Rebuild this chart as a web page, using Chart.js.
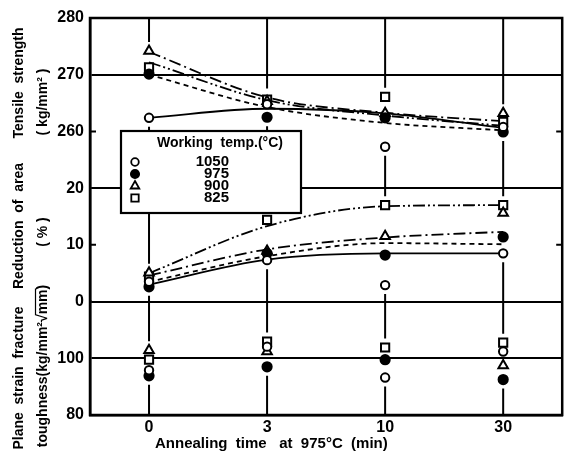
<!DOCTYPE html>
<html><head><meta charset="utf-8">
<script src="https://cdn.jsdelivr.net/npm/chart.js@4.4.1/dist/chart.umd.min.js"></script>
<style>html,body{margin:0;padding:0;background:#fff}#wrap{width:570px;height:455px;position:relative}</style>
</head><body><div id="wrap"><canvas id="c"></canvas></div>
<script>
// ---------- data ----------
const times = ['0', '3', '10', '30'];
const tempLabels = ['1050', '975', '900', '825'];
const tensileTicks = [260, 270, 280];
const reductionTicks = [0, 10, 20];
const toughnessTicks = [80, 100];

// Tensile strength (kg/mm2) measured points
const tensile1050 = [262.4, 264.8, 257.3, 260.8];
const tensile975  = [270.1, 262.5, 262.4, 259.9];
const tensile900  = [274.2, 265.3, 263.2, 263.2];
const tensile825  = [271.3, 265.6, 266.1, 261.7];
// Tensile strength fitted curves
const tensileFit1050 = [262.4, 264.0, 263.2, 260.6];
const tensileFit975  = [270.0, 264.3, 261.5, 260.2];
const tensileFit900  = [274.0, 266.0, 263.3, 261.8];
const tensileFit825  = [272.2, 265.5, 262.8, 261.0];

// Reduction of area (%) measured points
const reduction1050 = [3.5, 7.3, 2.9, 8.5];
const reduction975  = [2.6, 8.5, 8.2, 11.4];
const reduction900  = [5.1, 8.9, 11.5, 15.6];
const reduction825  = [4.4, 14.4, 17.0, 17.0];
// Reduction of area fitted curves
const reductionFit1050 = [3.0, 7.4, 8.5, 8.5];
const reductionFit975  = [3.5, 8.0, 10.3, 10.1];
const reductionFit900  = [4.6, 9.2, 11.3, 12.3];
const reductionFit825  = [5.0, 13.3, 16.8, 17.0];

// Plane strain fracture toughness measured points
const toughness1050 = [95.8, 104.1, 93.2, 102.4];
const toughness975  = [93.8, 97.0, 99.5, 92.5];
const toughness900  = [102.8, 102.4, null, 97.5];
const toughness825  = [99.5, 105.9, 103.8, 105.5];

// ---------- styles ----------
const FONT = "'Liberation Sans', Arial, sans-serif";
const seriesStyle = [
  {pointStyle: 'circle',   bg: '#fff', r: 4.2, dash: []},
  {pointStyle: 'circle',   bg: '#000', r: 4.6, dash: [5, 4]},
  {pointStyle: 'triangle', bg: '#fff', r: 5.5, dash: [12, 4, 2, 4]},
  {pointStyle: 'rect',     bg: '#fff', r: 5.8, dash: [12, 3, 2, 3, 2, 3]}
];

const tensilePts = [tensile1050, tensile975, tensile900, tensile825];
const tensileFits = [tensileFit1050, tensileFit975, tensileFit900, tensileFit825];
const reductionPts = [reduction1050, reduction975, reduction900, reduction825];
const reductionFits = [reductionFit1050, reductionFit975, reductionFit900, reductionFit825];
const toughnessPts = [toughness1050, toughness975, toughness900, toughness825];

function curveDs(data, i, axis) {
  return {label: tempLabels[i] + ' fit', data, yAxisID: axis, borderColor: '#000', borderWidth: 1.8,
    borderDash: seriesStyle[i].dash, pointRadius: 0, tension: 0.4, cubicInterpolationMode: 'monotone',
    fill: false, order: 2, spanGaps: true};
}
function pointDs(data, i, axis) {
  const s = seriesStyle[i];
  return {label: tempLabels[i], data, yAxisID: axis, showLine: false, pointStyle: s.pointStyle,
    pointRadius: s.r, pointBorderWidth: 2, pointBorderColor: '#000', pointBackgroundColor: s.bg,
    borderColor: '#000', backgroundColor: s.bg, order: 1};
}

const datasets = [];
tensileFits.forEach((d, i) => datasets.push(curveDs(d, i, 'yT')));
reductionFits.forEach((d, i) => datasets.push(curveDs(d, i, 'yR')));
tensilePts.forEach((d, i) => datasets.push(pointDs(d, i, 'yT')));
reductionPts.forEach((d, i) => datasets.push(pointDs(d, i, 'yR')));
toughnessPts.forEach((d, i) => datasets.push(pointDs(d, i, 'yK')));

const tickFont = {family: FONT, size: 16, weight: 'bold'};
function tickCb(show) { return v => show.includes(v) ? String(v) : ''; }
function gridColor(vals) { return c => (c.tick && vals.includes(c.tick.value)) ? '#000' : 'rgba(0,0,0,0)'; }
function yAxis(weight, min, max, step, show, lines) {
  return {
    type: 'linear', position: 'left', stack: 'panels', stackWeight: weight, min, max,
    ticks: {stepSize: step, callback: tickCb(show), color: '#000', font: tickFont, padding: 6},
    grid: {color: gridColor(lines), lineWidth: 2, drawTicks: false},
    border: {display: true, color: '#000', width: 2.5},
    afterFit: s => { s.width = 90; }
  };
}

// ---------- plugins ----------
const panelSeries = [
  {axis: 'yT', arrays: tensilePts.concat(tensileFits)},
  {axis: 'yR', arrays: reductionPts.concat(reductionFits)},
  {axis: 'yK', arrays: toughnessPts}
];

const framePlugin = {
  id: 'frame',
  beforeDatasetsDraw(chart) {
    const {ctx, chartArea: a, scales} = chart;
    ctx.save();
    ctx.strokeStyle = '#000';
    // vertical grid lines, broken around the data
    ctx.lineWidth = 2;
    const pad = 9;
    times.forEach((t, i) => {
      const x = scales.x.getPixelForValue(i);
      const gaps = [];
      panelSeries.forEach(p => {
        const sc = scales[p.axis];
        const ys = p.arrays.map(arr => arr[i]).filter(v => v != null).map(v => sc.getPixelForValue(v));
        if (ys.length) gaps.push([Math.min(...ys) - pad, Math.max(...ys) + pad]);
      });
      gaps.sort((g1, g2) => g1[0] - g2[0]);
      let y = a.top;
      ctx.beginPath();
      gaps.forEach(g => {
        if (g[0] > y) { ctx.moveTo(x, y); ctx.lineTo(x, g[0]); }
        y = Math.max(y, g[1]);
      });
      if (y < a.bottom) { ctx.moveTo(x, y); ctx.lineTo(x, a.bottom); }
      ctx.stroke();
    });
    // short inner ticks
    [['yT', 260], ['yR', 10]].forEach(([ax, v]) => {
      const y = scales[ax].getPixelForValue(v);
      ctx.beginPath();
      ctx.moveTo(a.left, y); ctx.lineTo(a.left + 6, y);
      ctx.moveTo(a.right - 6, y); ctx.lineTo(a.right, y);
      ctx.stroke();
    });
    // outer frame
    ctx.lineWidth = 2.5;
    ctx.strokeRect(a.left, a.top, a.right - a.left, a.bottom - a.top);
    ctx.restore();
  },
  afterDraw(chart) {
    const {ctx} = chart;
    ctx.save();
    ctx.fillStyle = '#000';
    // axis titles
    const tf = 'bold 14px ' + FONT;
    function vtext(text, x, yc) {
      ctx.save(); ctx.translate(x, yc); ctx.rotate(-Math.PI / 2);
      ctx.font = tf; ctx.textAlign = 'center'; ctx.textBaseline = 'middle';
      ctx.fillText(text, 0, 0); ctx.restore();
    }
    vtext('Tensile  strength', 19, 83);
    vtext('( kg/mm² )', 43, 102);
    vtext('Reduction  of  area', 19, 226);
    vtext('( % )', 43, 232);
    vtext('Plane  strain  fracture', 19, 378);
    // toughness title with radical overline
    const tt = 'toughness(kg/mm²√mm)';
    ctx.save(); ctx.translate(43, 366); ctx.rotate(-Math.PI / 2);
    ctx.font = tf; ctx.textAlign = 'left'; ctx.textBaseline = 'middle';
    const w = ctx.measureText(tt).width;
    ctx.fillText(tt, -w / 2, 0);
    const w0 = ctx.measureText('toughness(kg/mm²√').width;
    const w1 = ctx.measureText('mm').width;
    ctx.lineWidth = 1.2; ctx.strokeStyle = '#000';
    ctx.beginPath(); ctx.moveTo(-w / 2 + w0 - 1, -7.5); ctx.lineTo(-w / 2 + w0 + w1 + 1, -7.5); ctx.stroke();
    ctx.restore();
    // x title
    ctx.font = 'bold 15px ' + FONT; ctx.textAlign = 'left'; ctx.textBaseline = 'middle';
    ctx.fillText('Annealing  time   at  975°C  (min)', 155, 444);

    // legend box
    const L = 121, T = 131, R = 301, B = 213;
    ctx.fillStyle = '#fff';
    ctx.fillRect(L, T, R - L, B - T);
    ctx.lineWidth = 2.2; ctx.strokeStyle = '#000';
    ctx.strokeRect(L, T, R - L, B - T);
    ctx.fillStyle = '#000';
    ctx.font = 'bold 14px ' + FONT; ctx.textAlign = 'center'; ctx.textBaseline = 'middle';
    ctx.fillText('Working  temp.(°C)', 220, 143);
    const rows = [162, 174, 186, 198];
    ctx.font = 'bold 15px ' + FONT;
    tempLabels.forEach((lab, i) => {
      const s = seriesStyle[i];
      ctx.textAlign = 'right';
      ctx.fillStyle = '#000';
      ctx.fillText(lab, 229, rows[i]);
      ctx.fillStyle = s.bg; ctx.strokeStyle = '#000'; ctx.lineWidth = 1.8;
      Chart.helpers.drawPoint(ctx, {pointStyle: s.pointStyle, radius: s.r * 0.9, borderWidth: 1.8}, 135, rows[i]);
    });
    ctx.restore();
  }
};

new Chart(document.getElementById('c'), {
  type: 'line',
  data: {labels: times, datasets},
  options: {
    responsive: true, maintainAspectRatio: false, animation: false,
    layout: {padding: {top: 18, right: 2, left: 0, bottom: 0}},
    plugins: {legend: {display: false}, tooltip: {enabled: false}},
    scales: {
      x: {
        type: 'category', offset: true,
        grid: {display: false, drawTicks: false},
        border: {display: true, color: '#000', width: 2.5},
        ticks: {color: '#000', font: tickFont, padding: 3},
        afterFit: s => { s.height = 40; }
      },
      yK: yAxis(2, 80, 120, 20, toughnessTicks, [100, 120]),
      yR: yAxis(2, 0, 20, 10, reductionTicks, [0, 20]),
      yT: yAxis(3, 250, 280, 10, tensileTicks, [250, 270])
    }
  },
  plugins: [framePlugin]
});
</script>
</body></html>
